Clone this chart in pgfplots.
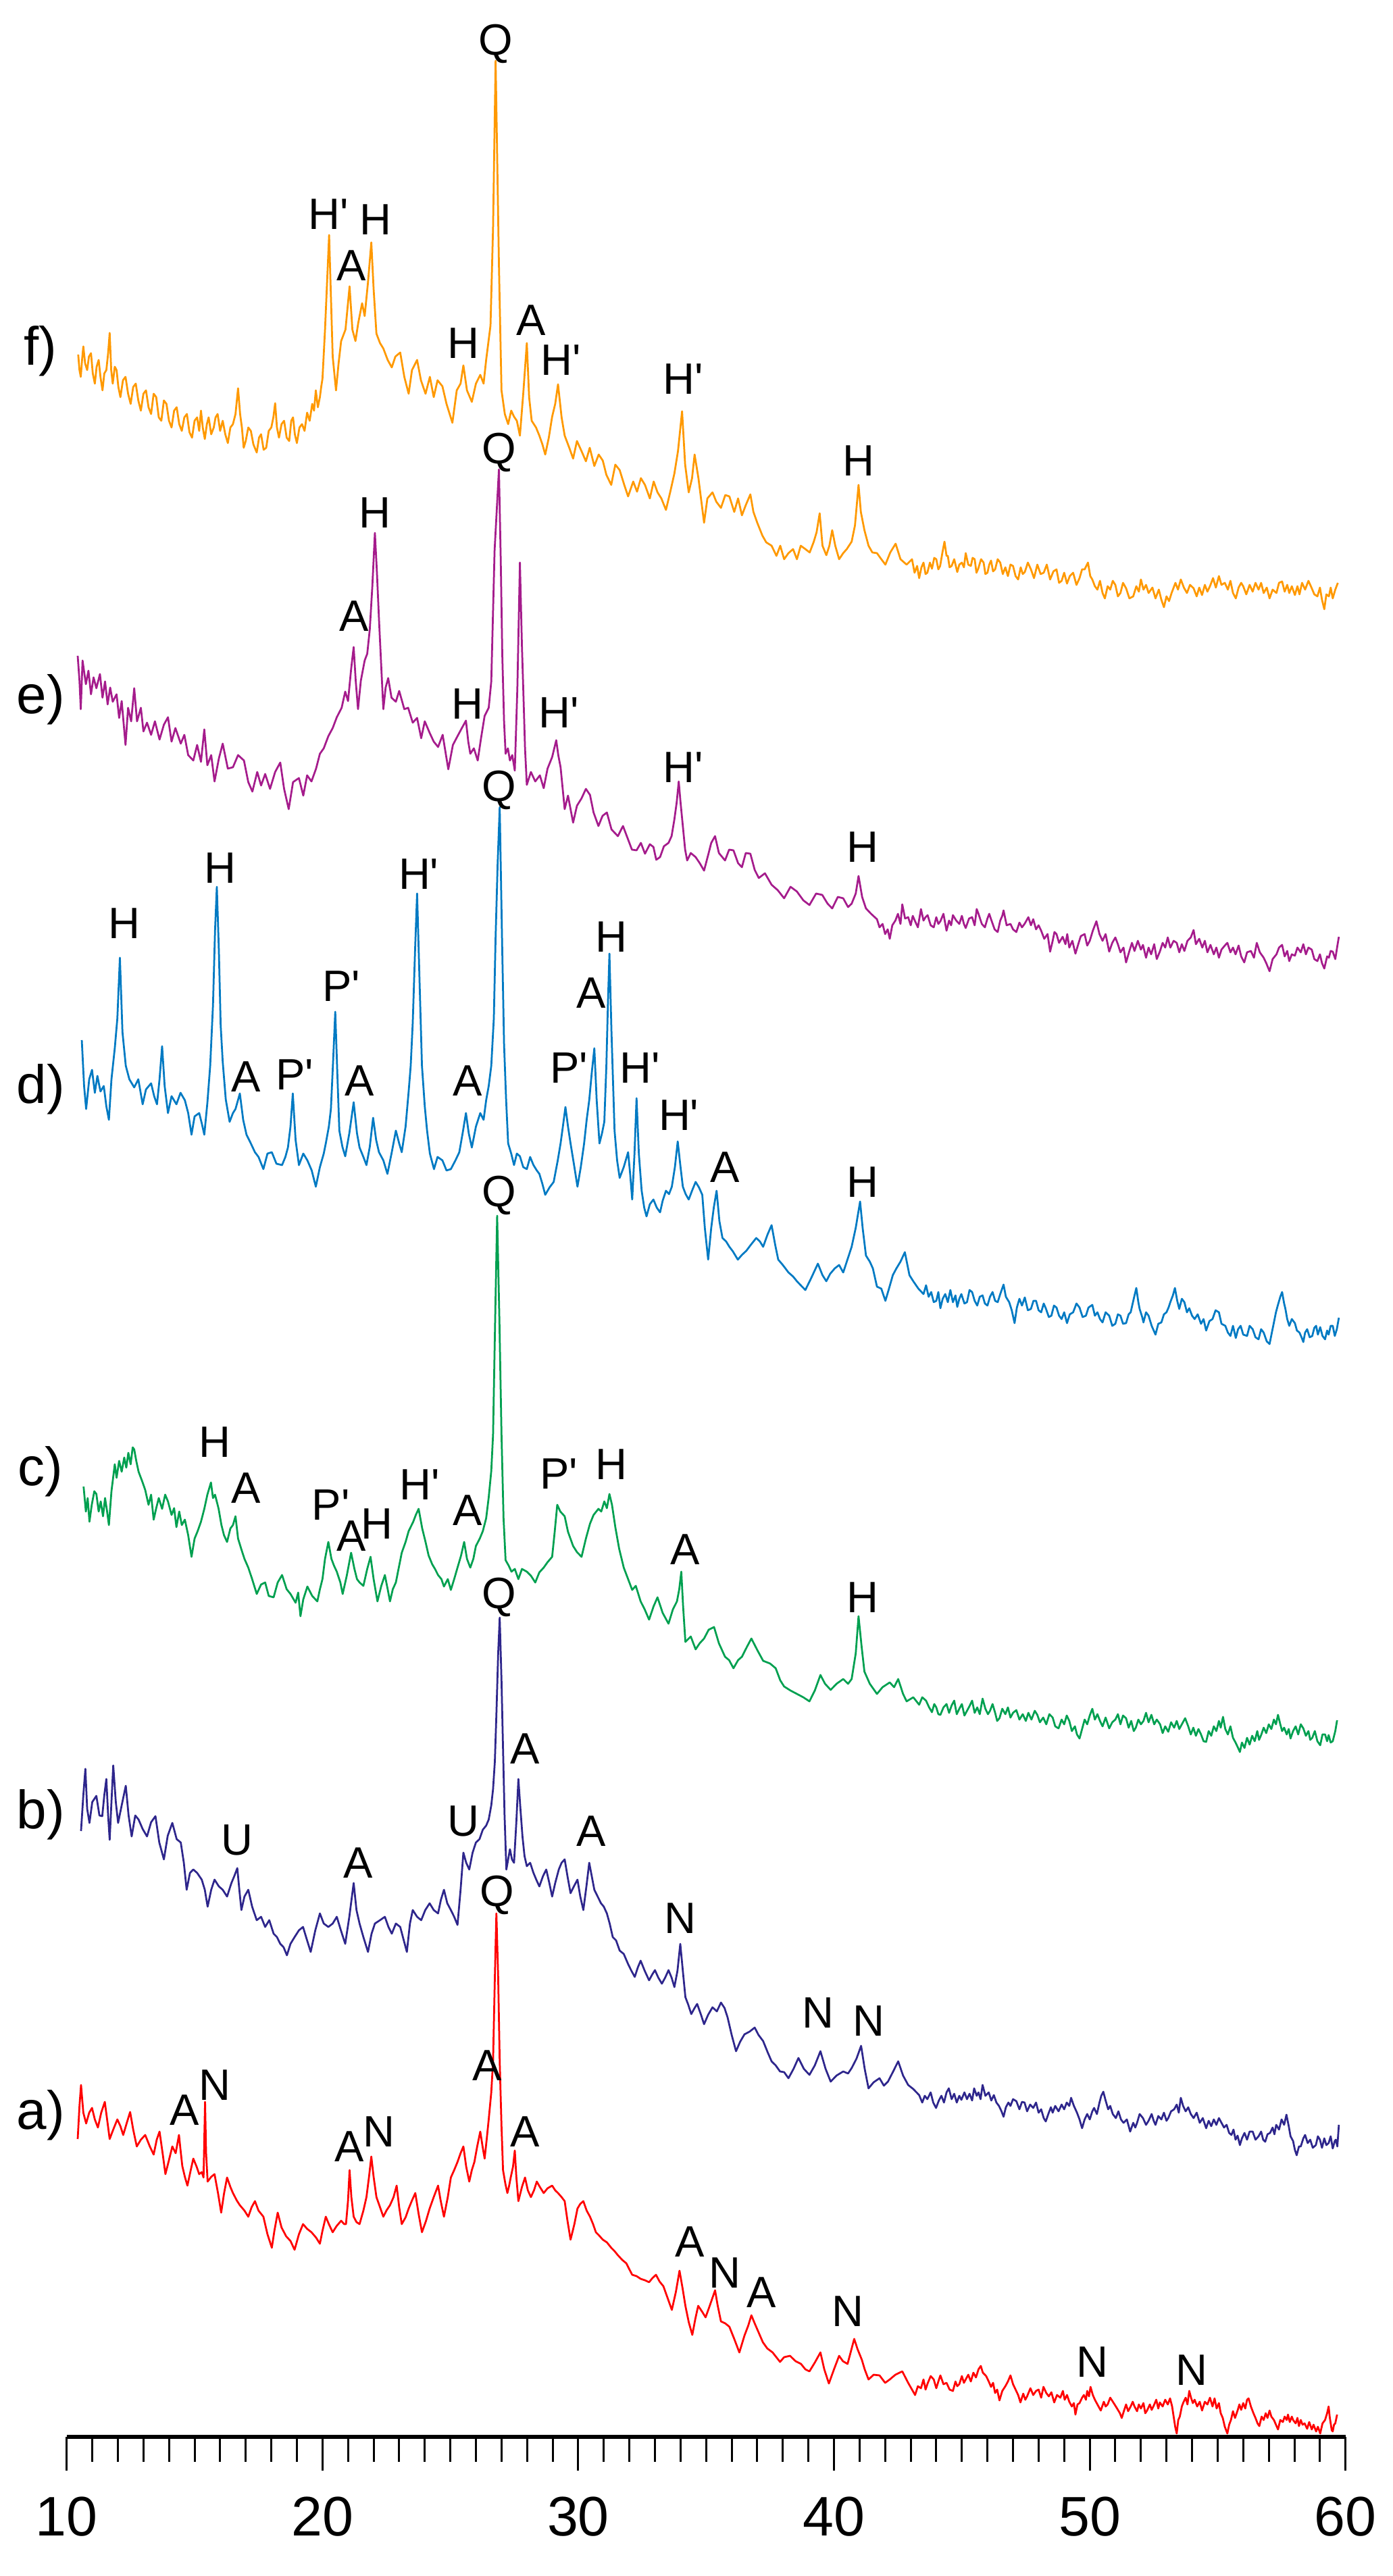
\documentclass[border=0pt]{standalone}
\usepackage{fontspec}
\setmainfont{Liberation Sans}
\usepackage{pgfplots}
\pgfplotsset{compat=1.18}

\definecolor{cf}{RGB}{255,153,0}
\definecolor{ce}{RGB}{165,28,140}
\definecolor{cd}{RGB}{0,122,195}
\definecolor{cc}{RGB}{0,160,80}
\definecolor{cb}{RGB}{46,38,140}
\definecolor{ca}{RGB}{255,0,0}

\newcommand\lbl{\fontsize{13}{14}\selectfont}
\newcommand\pnl{\fontsize{16}{17}\selectfont}
\newcommand\pk[3]{\node[font=\lbl,inner sep=0pt] at (axis cs:#1,#2) {#3};}
\newcommand\pr{\textquotesingle}

\begin{document}
\begin{tikzpicture}
\begin{axis}[
  scale only axis,
  width=378.6pt, height=721.6pt,
  xmin=10, xmax=60, ymin=0, ymax=3608,
  axis x line=bottom, axis y line=none,
  axis line style={-, line width=1.2pt},
  xtick={10,20,...,60}, minor x tick num=9,
  tick align=outside,
  major tick length=10pt, minor tick length=7.3pt,
  every tick/.append style={black, line width=0.6pt},
  xticklabel style={font=\fontsize{16.5}{18}\selectfont, yshift=-4.3pt},
  /pgf/number format/assume math mode=true,
  clip=false,
  every axis plot/.append style={line width=0.55pt, line join=round, mark=none},
]
% f)
\addplot[cf] coordinates {
(10.45,3083)(10.5,3060)(10.55,3050)(10.6,3075)(10.65,3095)(10.72,3070)(10.8,3060)(10.87,3080)(10.95,3085)(11.02,3055)(11.1,3040)(11.17,3065)
(11.25,3075)(11.32,3050)(11.4,3030)(11.47,3055)(11.55,3060)(11.62,3085)(11.68,3115)(11.74,3060)(11.8,3040)(11.88,3065)(11.95,3060)(12.02,3035)
(12.1,3020)(12.2,3045)(12.3,3050)(12.4,3025)(12.5,3010)(12.6,3035)(12.7,3040)(12.8,3015)(12.9,3000)(13.0,3025)(13.1,3030)(13.2,3005)(13.3,2995)
(13.4,3025)(13.5,3020)(13.6,2990)(13.7,2985)(13.8,3015)(13.9,3010)(14.0,2985)(14.1,2975)(14.2,3000)(14.3,3005)(14.4,2980)(14.5,2970)(14.6,2990)
(14.7,2995)(14.8,2968)(14.9,2960)(15.0,2985)(15.1,2990)(15.18,2970)(15.25,3000)(15.32,2975)(15.4,2958)(15.48,2980)(15.55,2990)(15.65,2965)
(15.75,2975)(15.82,2990)(15.9,2995)(16.0,2970)(16.1,2985)(16.2,2965)(16.3,2952)(16.4,2975)(16.5,2980)(16.6,2995)(16.7,3033)(16.78,2995)
(16.85,2975)(16.92,2945)(17.0,2955)(17.1,2975)(17.2,2970)(17.3,2950)(17.43,2938)(17.52,2960)(17.6,2965)(17.7,2942)(17.8,2945)(17.9,2970)
(18.0,2975)(18.08,2990)(18.15,3011)(18.22,2975)(18.3,2960)(18.4,2980)(18.5,2985)(18.6,2960)(18.7,2955)(18.78,2985)(18.85,2990)(18.92,2965)
(19.0,2952)(19.1,2975)(19.2,2980)(19.3,2970)(19.4,2997)(19.5,2985)(19.6,3010)(19.67,3000)(19.74,3030)(19.82,3005)(19.9,3020)(19.95,3035)
(20.0,3047)(20.1,3120)(20.26,3260)(20.4,3080)(20.53,3030)(20.63,3070)(20.73,3103)(20.9,3120)(21.06,3184)
(21.17,3120)(21.29,3103)(21.4,3130)(21.55,3159)(21.65,3140)(21.78,3190)(21.91,3249)(22.0,3180)(22.11,3114)(22.25,3100)(22.38,3092)(22.55,3075)
(22.71,3064)(22.85,3080)(23.04,3086)(23.2,3050)(23.37,3025)(23.5,3060)(23.7,3075)(23.85,3045)(24.03,3025)(24.2,3050)(24.35,3020)(24.5,3045)
(24.69,3036)(24.85,3010)(25.08,2982)(25.25,3030)(25.4,3040)(25.51,3067)(25.65,3030)(25.84,3013)(26.0,3040)(26.17,3053)(26.3,3040)(26.4,3075)
(26.57,3126)(26.67,3271)(26.77,3518)(26.9,3215)(27.0,3030)(27.13,2995)(27.26,2980)(27.38,3000)(27.49,2991)(27.6,2985)(27.72,2963)(27.85,3025)
(27.99,3100)(28.08,3020)(28.18,2985)(28.35,2975)(28.48,2963)(28.6,2950)(28.71,2935)(28.85,2960)(28.98,2991)(29.1,3010)(29.21,3039)(29.35,2990)
(29.47,2963)(29.65,2945)(29.8,2929)(29.95,2955)(30.13,2940)(30.3,2925)(30.45,2945)(30.63,2918)(30.8,2935)(30.96,2926)(31.1,2905)(31.29,2890)
(31.45,2920)(31.62,2912)(31.8,2890)(31.95,2873)(32.15,2895)(32.3,2880)(32.45,2900)(32.61,2890)(32.8,2870)(32.95,2895)(33.1,2879)(33.25,2870)
(33.43,2853)(33.6,2880)(33.76,2907)(33.9,2940)(34.06,2999)(34.18,2920)(34.32,2879)(34.45,2900)(34.55,2935)(34.7,2900)(34.92,2834)(35.05,2870)
(35.25,2879)(35.4,2865)(35.58,2856)(35.75,2875)(35.91,2873)(36.1,2850)(36.25,2870)(36.4,2845)(36.55,2860)(36.73,2876)(36.85,2850)(37.0,2834)
(37.2,2815)(37.35,2805)(37.56,2800)(37.75,2785)(37.9,2800)(38.05,2780)(38.22,2789)(38.4,2795)(38.55,2780)(38.7,2800)(38.88,2795)(39.05,2790)
(39.21,2806)(39.32,2820)(39.44,2848)(39.55,2800)(39.7,2786)(39.82,2800)(39.93,2823)(40.05,2800)(40.2,2780)(40.36,2789)(40.5,2795)(40.69,2806)
(40.82,2830)(40.96,2890)(41.05,2850)(41.19,2823)(41.35,2800)(41.5,2790)(41.68,2789)(41.85,2780)(42.01,2772)(42.2,2790)(42.41,2803)(42.6,2780)
(42.84,2772)(43.05,2780)(43.15,2760)(43.25,2770)(43.33,2752)(43.42,2768)(43.5,2775)(43.58,2758)(43.65,2760)(43.75,2775)(43.83,2766)(43.92,2782)
(44.0,2780)(44.08,2765)(44.15,2770)(44.24,2790)(44.32,2806)(44.4,2785)(44.45,2785)(44.52,2768)(44.6,2770)(44.7,2780)(44.82,2761)(44.9,2772)
(45.0,2775)(45.08,2768)(45.15,2789)(45.25,2772)(45.35,2770)(45.42,2782)(45.5,2780)(45.57,2760)(45.64,2766)(45.75,2780)(45.85,2775)(45.92,2758)
(46.0,2760)(46.07,2772)(46.14,2778)(46.22,2762)(46.3,2765)(46.4,2780)(46.5,2775)(46.6,2758)(46.7,2768)(46.8,2755)(46.9,2772)(47.0,2770)
(47.1,2755)(47.2,2750)(47.3,2768)(47.38,2758)(47.46,2761)(47.58,2775)(47.7,2765)(47.82,2752)(47.95,2772)(48.08,2758)(48.2,2760)(48.32,2772)
(48.45,2750)(48.58,2762)(48.7,2765)(48.8,2745)(48.9,2748)(49.0,2760)(49.11,2744)(49.22,2755)(49.35,2760)(49.48,2742)(49.6,2752)(49.7,2765)
(49.8,2765)(49.93,2775)(50.02,2755)(50.1,2750)(50.2,2740)(50.3,2735)(50.4,2748)(50.5,2730)(50.59,2722)(50.7,2740)(50.8,2735)(50.9,2748)
(51.0,2742)(51.1,2725)(51.2,2730)(51.3,2745)(51.42,2737)(51.55,2722)(51.7,2725)(51.82,2740)(51.92,2732)(52.0,2750)(52.1,2735)(52.2,2742)
(52.3,2730)(52.45,2738)(52.57,2722)(52.7,2735)(52.8,2720)(52.9,2709)(53.0,2725)(53.1,2718)(53.2,2730)(53.35,2745)(53.45,2735)(53.56,2750)
(53.68,2738)(53.8,2730)(53.92,2742)(54.06,2737)(54.18,2725)(54.28,2738)(54.39,2727)(54.5,2742)(54.6,2732)(54.7,2740)(54.82,2752)(54.93,2738)
(55.05,2755)(55.15,2742)(55.28,2745)(55.4,2735)(55.5,2748)(55.6,2730)(55.71,2722)(55.82,2738)(55.92,2745)(56.0,2740)(56.12,2728)(56.25,2742)
(56.37,2732)(56.48,2745)(56.6,2735)(56.7,2745)(56.8,2730)(56.92,2738)(57.03,2722)(57.15,2735)(57.3,2730)(57.4,2745)(57.52,2747)(57.62,2732)
(57.72,2742)(57.8,2730)(57.9,2740)(58.02,2727)(58.12,2740)(58.2,2728)(58.3,2745)(58.42,2735)(58.55,2748)(58.68,2737)(58.78,2728)(58.9,2725)
(59.0,2738)(59.08,2720)(59.17,2706)(59.25,2728)(59.35,2725)(59.42,2738)(59.5,2722)(59.6,2735)(59.7,2745)
};
% e)
\addplot[ce] coordinates {
(10.43,2637)(10.5,2600)(10.55,2558)(10.62,2630)(10.75,2595)(10.85,2615)(10.95,2580)(11.05,2605)(11.16,2589)(11.3,2610)(11.4,2575)(11.5,2599)
(11.6,2565)(11.7,2590)(11.8,2569)(11.95,2580)(12.05,2545)(12.15,2570)(12.3,2505)(12.4,2560)(12.52,2540)(12.64,2589)(12.75,2540)(12.9,2560)
(13.0,2525)(13.14,2538)(13.3,2520)(13.45,2540)(13.63,2513)(13.8,2535)(13.96,2546)(14.1,2510)(14.25,2530)(14.46,2507)(14.6,2520)(14.75,2490)
(14.95,2482)(15.1,2505)(15.25,2480)(15.38,2528)(15.5,2475)(15.65,2490)(15.78,2451)(15.95,2485)(16.1,2507)(16.3,2470)(16.5,2472)(16.7,2490)
(16.93,2482)(17.1,2450)(17.26,2436)(17.45,2465)(17.6,2445)(17.76,2462)(17.95,2440)(18.15,2465)(18.35,2479)(18.5,2440)(18.68,2410)(18.85,2450)
(19.08,2456)(19.25,2430)(19.4,2460)(19.57,2451)(19.75,2470)(19.9,2492)(20.05,2500)(20.23,2518)(20.4,2530)(20.56,2546)(20.75,2560)(20.89,2584)
(21.0,2570)(21.12,2617)(21.22,2650)(21.3,2600)(21.39,2558)(21.5,2600)(21.65,2630)(21.75,2640)(21.85,2676)(21.95,2740)(22.05,2819)(22.13,2760)
(22.21,2691)(22.3,2620)(22.38,2558)(22.47,2590)(22.57,2604)(22.7,2575)(22.87,2569)(23.0,2585)(23.2,2558)(23.35,2560)(23.53,2538)(23.7,2545)
(23.86,2515)(24.0,2540)(24.19,2523)(24.35,2510)(24.52,2502)(24.7,2520)(24.92,2469)(25.1,2505)(25.28,2518)(25.45,2530)(25.61,2541)(25.7,2510)
(25.78,2492)(25.92,2500)(26.07,2482)(26.2,2515)(26.34,2548)(26.5,2560)(26.6,2599)(26.73,2793)(26.9,2913)(26.97,2780)(27.03,2640)(27.1,2540)
(27.16,2492)(27.25,2500)(27.33,2482)(27.42,2490)(27.52,2467)(27.62,2589)(27.72,2775)(27.8,2650)(27.85,2589)(27.92,2500)(27.99,2446)(28.15,2465)
(28.32,2451)(28.5,2460)(28.65,2441)(28.8,2470)(28.98,2487)(29.14,2512)(29.22,2490)(29.31,2472)(29.47,2410)(29.6,2430)(29.8,2390)(29.95,2415)
(30.13,2426)(30.3,2440)(30.46,2431)(30.6,2405)(30.79,2385)(30.95,2400)(31.12,2405)(31.3,2380)(31.55,2370)(31.75,2385)(31.95,2365)(32.1,2350)
(32.28,2349)(32.45,2360)(32.61,2344)(32.8,2358)(32.94,2354)(33.05,2335)(33.2,2339)(33.35,2355)(33.53,2360)(33.65,2370)(33.76,2395)(33.85,2420)
(33.93,2451)(34.0,2420)(34.09,2385)(34.18,2350)(34.26,2334)(34.4,2345)(34.59,2339)(34.75,2330)(34.92,2319)(35.1,2345)(35.2,2360)(35.35,2370)
(35.5,2345)(35.74,2334)(35.9,2350)(36.07,2349)(36.25,2330)(36.4,2324)(36.55,2345)(36.73,2344)(36.9,2320)(37.06,2308)(37.3,2315)(37.56,2298)
(37.8,2290)(38.05,2278)(38.3,2295)(38.55,2288)(38.8,2275)(39.04,2268)(39.3,2285)(39.54,2283)(39.75,2270)(39.93,2263)(40.15,2280)(40.36,2278)
(40.55,2265)(40.69,2270)(40.85,2285)(40.96,2311)(41.1,2280)(41.25,2263)(41.45,2255)
(41.68,2247)(41.78,2235)(41.9,2240)(42.0,2225)(42.1,2232)(42.18,2218)(42.28,2238)(42.4,2245)(42.5,2255)(42.6,2240)(42.67,2269)(42.78,2248)
(42.9,2250)(43.0,2238)(43.08,2252)(43.17,2244)(43.28,2235)(43.4,2262)(43.5,2245)(43.58,2250)(43.66,2253)(43.78,2238)(43.9,2235)(44.0,2250)
(44.08,2240)(44.16,2244)(44.28,2255)(44.4,2230)(44.5,2245)(44.58,2238)(44.65,2253)(44.78,2245)(44.9,2240)(45.0,2252)(45.08,2240)(45.15,2234)
(45.28,2248)(45.4,2250)(45.5,2238)(45.58,2262)(45.64,2256)(45.78,2240)(45.9,2235)(46.0,2248)(46.07,2255)(46.14,2247)(46.28,2232)(46.4,2228)
(46.5,2245)(46.58,2252)(46.63,2260)(46.75,2238)(46.9,2240)(47.0,2232)(47.13,2228)(47.25,2242)(47.35,2235)(47.45,2240)(47.6,2250)(47.7,2238)
(47.79,2247)(47.9,2232)(48.0,2238)(48.1,2230)(48.22,2218)(48.35,2225)(48.45,2199)(48.55,2215)(48.62,2228)(48.7,2225)(48.8,2212)(48.94,2221)
(49.05,2210)(49.12,2225)(49.2,2205)(49.32,2215)(49.44,2196)(49.55,2210)(49.65,2222)(49.8,2225)(49.9,2208)(50.0,2215)(50.12,2230)(50.26,2244)
(50.38,2225)(50.5,2215)(50.62,2225)(50.76,2199)(50.88,2212)(51.0,2220)(51.1,2210)(51.2,2198)(51.32,2205)(51.42,2183)(51.55,2200)(51.65,2212)
(51.75,2200)(51.88,2215)(52.0,2202)(52.08,2209)(52.2,2190)(52.3,2205)(52.4,2195)(52.52,2210)(52.62,2188)(52.74,2199)(52.85,2212)(52.95,2205)
(53.05,2220)(53.15,2205)(53.28,2215)(53.4,2212)(53.5,2198)(53.6,2210)(53.7,2200)(53.82,2215)(53.95,2220)(54.06,2231)(54.15,2210)(54.28,2218)
(54.4,2205)(54.5,2215)(54.6,2198)(54.72,2209)(54.85,2195)(54.95,2205)(55.05,2190)(55.15,2202)(55.28,2208)(55.38,2212)(55.5,2198)(55.6,2205)
(55.7,2195)(55.82,2208)(55.92,2192)(56.04,2183)(56.15,2198)(56.3,2200)(56.42,2190)(56.53,2212)(56.65,2198)(56.8,2190)(56.9,2182)(57.03,2170)
(57.15,2188)(57.3,2195)(57.4,2205)(57.52,2209)(57.62,2192)(57.72,2200)(57.8,2185)(57.9,2195)(58.02,2193)(58.12,2205)(58.25,2198)(58.35,2210)
(58.45,2195)(58.55,2205)(58.68,2202)(58.78,2188)(58.9,2185)(59.0,2195)(59.08,2182)(59.17,2174)(59.28,2192)(59.35,2190)(59.42,2200)(59.5,2199)
(59.6,2188)(59.67,2205)(59.74,2221)
};
% d)
\addplot[cd] coordinates {
(10.59,2068)(10.68,2000)(10.76,1966)(10.88,2010)(10.99,2024)(11.1,1990)(11.2,2015)(11.32,1992)(11.45,2000)(11.55,1970)(11.65,1950)(11.75,2010)
(11.88,2056)(11.98,2100)(12.08,2190)(12.18,2080)(12.31,2030)(12.45,2010)(12.64,1998)(12.8,2010)(12.97,1973)(13.1,1995)(13.3,2004)(13.42,1985)
(13.53,1973)(13.63,2010)(13.73,2059)(13.83,2000)(13.96,1960)(14.1,1985)(14.29,1973)(14.45,1990)(14.62,1979)(14.75,1960)(14.88,1928)(15.0,1955)
(15.18,1960)(15.28,1945)(15.38,1928)(15.5,1975)(15.61,2030)(15.72,2120)(15.8,2230)(15.87,2295)(15.95,2200)(16.02,2090)(16.1,2036)(16.22,1980)
(16.37,1947)(16.5,1960)(16.6,1966)(16.77,1989)(16.9,1950)(17.03,1928)(17.2,1915)(17.36,1902)(17.5,1895)(17.69,1877)(17.85,1900)(18.02,1902)
(18.2,1885)(18.42,1883)(18.55,1895)(18.65,1909)(18.75,1940)(18.84,1989)(18.95,1920)(19.08,1883)(19.25,1900)(19.41,1890)(19.58,1875)(19.74,1851)
(19.9,1880)(20.05,1900)(20.13,1915)(20.25,1940)(20.33,1966)(20.42,2040)(20.5,2110)(20.58,2020)(20.66,1934)(20.78,1910)(20.89,1896)(21.05,1930)
(21.22,1976)(21.35,1930)(21.45,1909)(21.6,1895)(21.72,1883)(21.85,1910)(21.98,1953)(22.1,1920)(22.21,1902)(22.38,1890)(22.54,1870)(22.7,1900)
(22.87,1934)(23.0,1915)(23.1,1902)(23.25,1940)(23.37,1992)(23.45,2030)(23.53,2094)(23.62,2200)(23.7,2285)(23.8,2150)(23.89,2030)(24.0,1970)
(24.09,1934)(24.2,1900)(24.36,1877)(24.5,1895)(24.69,1890)(24.85,1875)(25.02,1877)(25.2,1890)(25.35,1902)(25.48,1930)(25.61,1960)(25.72,1930)
(25.84,1909)(26.0,1940)(26.17,1960)(26.3,1950)(26.4,1979)(26.5,2000)(26.6,2030)(26.7,2100)(26.77,2221)(26.85,2330)(26.93,2413)(27.02,2220)
(27.1,2062)(27.18,1980)(27.26,1915)(27.38,1900)(27.49,1883)(27.6,1900)(27.72,1896)(27.85,1880)(27.99,1877)(28.12,1895)(28.25,1883)(28.38,1875)
(28.48,1870)(28.6,1855)(28.71,1839)(28.88,1850)(29.04,1858)(29.2,1890)(29.31,1915)(29.4,1940)(29.5,1969)(29.6,1940)(29.7,1915)(29.85,1880)
(29.97,1851)(30.1,1880)(30.23,1915)(30.33,1950)(30.43,1979)(30.53,2020)(30.63,2056)(30.72,1980)(30.83,1915)(30.93,1930)(31.02,1947)(31.1,2030)
(31.16,2120)(31.22,2196)(31.3,2080)(31.42,1934)(31.52,1890)(31.62,1864)(31.78,1880)(31.95,1902)(32.03,1870)(32.11,1832)(32.2,1900)(32.28,1982)
(32.37,1900)(32.48,1845)(32.58,1820)(32.67,1807)(32.8,1825)(32.94,1832)(33.07,1820)(33.2,1813)(33.3,1830)(33.43,1845)(33.55,1840)(33.66,1851)
(33.78,1880)(33.89,1918)(34.0,1880)(34.09,1851)(34.2,1840)(34.32,1832)(34.45,1845)(34.59,1858)(34.72,1850)(34.85,1839)(34.95,1790)(35.08,1743)
(35.2,1790)(35.3,1820)(35.41,1845)(35.52,1800)(35.64,1775)(35.78,1770)(35.91,1762)(36.05,1755)(36.24,1743)(36.4,1750)(36.57,1756)(36.75,1765)
(36.96,1775)(37.1,1770)(37.23,1762)(37.4,1780)(37.56,1794)(37.7,1765)(37.82,1743)(38.0,1735)(38.22,1724)(38.4,1718)(38.55,1711)(38.7,1705)
(38.88,1698)(39.1,1715)(39.37,1737)(39.55,1720)(39.7,1711)(39.85,1722)(40.03,1730)(40.2,1735)(40.36,1724)(40.5,1740)(40.69,1762)(40.85,1790)
(41.02,1829)(41.12,1790)(41.25,1749)(41.4,1740)(41.52,1730)(41.68,1703)(41.85,1700)(42.01,1682)(42.15,1700)(42.3,1720)(42.44,1730)(42.6,1740)
(42.77,1754)(42.95,1720)(43.1,1711)(43.3,1700)
(43.5,1692)(43.6,1705)(43.7,1688)(43.8,1695)(43.9,1680)(44.0,1682)(44.08,1695)(44.16,1671)(44.25,1685)(44.35,1692)(44.45,1680)(44.55,1698)
(44.65,1680)(44.75,1690)(44.82,1673)(44.9,1685)(44.98,1692)(45.1,1678)(45.2,1680)(45.3,1698)(45.4,1695)(45.5,1682)(45.6,1675)(45.7,1688)
(45.81,1690)(45.9,1678)(46.0,1675)(46.1,1688)(46.2,1695)(46.3,1682)(46.4,1680)(46.5,1692)(46.63,1706)(46.72,1688)(46.85,1680)(46.95,1668)
(47.06,1649)(47.15,1672)(47.25,1685)(47.35,1675)(47.46,1687)(47.58,1668)(47.7,1670)(47.8,1682)(47.9,1682)(48.0,1668)(48.1,1665)(48.2,1678)
(48.28,1671)(48.4,1658)(48.5,1660)(48.6,1675)(48.7,1672)(48.8,1660)(48.9,1655)(49.0,1665)(49.11,1649)(49.22,1662)(49.35,1665)(49.48,1678)
(49.6,1672)(49.72,1658)(49.85,1660)(49.95,1672)(50.1,1676)(50.2,1660)(50.3,1665)(50.4,1655)(50.5,1650)(50.62,1665)(50.76,1660)(50.88,1645)
(51.0,1648)(51.1,1662)(51.2,1660)(51.3,1648)(51.42,1649)(51.52,1662)(51.6,1665)(51.72,1685)(51.82,1701)(51.9,1680)(51.95,1670)(52.05,1658)
(52.1,1650)(52.2,1665)(52.3,1660)(52.42,1645)(52.57,1632)(52.68,1648)(52.8,1650)(52.9,1662)(53.0,1665)(53.08,1672)(53.15,1680)(53.25,1690)
(53.33,1701)(53.42,1682)(53.5,1670)(53.6,1685)(53.7,1680)(53.8,1665)(53.89,1671)(54.0,1660)(54.1,1655)(54.22,1662)(54.35,1648)(54.45,1655)
(54.55,1638)(54.68,1652)(54.8,1655)(54.92,1668)(55.05,1665)(55.15,1648)(55.3,1645)(55.4,1635)(55.5,1630)(55.6,1645)(55.71,1627)(55.8,1640)
(55.9,1645)(56.0,1632)(56.15,1630)(56.25,1645)(56.37,1640)(56.48,1628)(56.6,1625)(56.7,1640)(56.8,1635)(56.92,1622)(57.03,1618)(57.12,1635)
(57.2,1650)(57.28,1665)(57.35,1675)(57.45,1688)(57.52,1695)(57.6,1678)(57.65,1670)(57.72,1655)(57.8,1645)(57.9,1655)(58.02,1649)(58.1,1638)
(58.2,1635)(58.28,1628)(58.35,1621)(58.42,1635)(58.5,1640)(58.6,1628)(58.7,1630)(58.78,1642)(58.85,1645)(58.92,1632)(59.01,1643)(59.1,1630)
(59.2,1625)(59.28,1638)(59.34,1632)(59.42,1645)(59.5,1645)(59.58,1630)(59.66,1640)(59.74,1657)
};
% c)
\addplot[cc] coordinates {
(10.66,1407)(10.75,1370)(10.82,1390)(10.89,1355)(10.98,1380)(11.08,1400)(11.16,1396)(11.25,1370)(11.33,1385)(11.42,1363)(11.5,1390)(11.58,1370)
(11.65,1350)(11.75,1400)(11.88,1440)(11.95,1420)(12.05,1445)(12.15,1429)(12.25,1450)(12.33,1435)(12.41,1457)(12.5,1440)(12.58,1465)(12.64,1462)
(12.72,1445)(12.81,1429)(12.95,1415)(13.07,1402)(13.2,1380)(13.3,1395)(13.4,1358)(13.5,1375)(13.6,1390)(13.73,1374)(13.85,1395)(13.96,1385)
(14.1,1365)(14.2,1375)(14.29,1347)(14.4,1370)(14.5,1350)(14.62,1358)(14.75,1335)(14.88,1303)(15.0,1330)(15.12,1341)(15.25,1355)(15.38,1374)
(15.5,1395)(15.64,1413)(15.72,1390)(15.8,1395)(15.94,1374)(16.05,1350)(16.15,1335)(16.27,1325)(16.4,1345)(16.5,1350)(16.6,1363)(16.7,1330)
(16.83,1314)(16.95,1300)(17.1,1287)(17.25,1270)(17.43,1248)(17.6,1262)(17.76,1265)(17.9,1245)(18.09,1243)(18.25,1265)(18.42,1276)(18.6,1255)
(18.75,1248)(18.95,1235)(19.05,1250)(19.14,1215)(19.25,1240)(19.41,1259)(19.6,1245)(19.8,1237)(19.9,1255)(20.0,1270)(20.1,1300)(20.23,1325)
(20.35,1300)(20.45,1290)(20.56,1281)(20.7,1265)(20.79,1248)(20.95,1275)(21.12,1309)(21.25,1285)(21.35,1270)(21.45,1265)(21.6,1260)(21.75,1285)
(21.88,1303)(22.0,1270)(22.15,1237)(22.3,1260)(22.44,1276)(22.55,1255)(22.64,1237)(22.75,1255)(22.87,1265)(23.0,1290)(23.1,1309)(23.25,1325)
(23.37,1341)(23.55,1355)(23.65,1365)(23.76,1374)(23.9,1345)(24.03,1325)(24.15,1305)(24.29,1292)(24.4,1285)(24.52,1276)(24.65,1270)(24.75,1259)
(24.9,1270)(25.02,1254)(25.15,1270)(25.28,1287)(25.42,1305)(25.54,1325)(25.65,1300)(25.78,1287)(25.9,1300)(26.0,1319)(26.15,1330)(26.27,1341)
(26.4,1360)(26.5,1391)(26.6,1430)(26.67,1484)(26.75,1650)(26.83,1808)(26.92,1650)(27.0,1484)(27.08,1360)(27.16,1298)(27.28,1290)(27.39,1281)
(27.52,1285)(27.66,1270)(27.8,1285)(27.99,1281)(28.15,1275)(28.32,1265)(28.48,1280)(28.65,1287)(28.8,1295)(28.98,1303)(29.08,1340)(29.18,1380)
(29.3,1370)(29.47,1363)(29.6,1340)(29.8,1319)(29.95,1310)(30.13,1303)(30.3,1330)(30.46,1352)(30.6,1365)(30.79,1374)(30.9,1370)(31.02,1385)
(31.12,1375)(31.22,1396)(31.32,1380)(31.45,1347)(31.6,1315)(31.78,1287)(31.95,1270)(32.11,1254)(32.25,1260)(32.44,1237)(32.6,1225)(32.77,1210)
(32.95,1230)(33.1,1243)(33.3,1220)(33.53,1204)(33.7,1225)(33.86,1237)(33.95,1255)(34.03,1281)(34.1,1230)(34.19,1177)(34.4,1185)(34.59,1166)
(34.75,1175)(34.92,1182)(35.1,1195)(35.31,1199)(35.5,1175)(35.74,1155)(35.9,1150)(36.07,1138)(36.25,1150)(36.4,1155)(36.6,1170)(36.77,1182)
(37.0,1165)(37.23,1149)(37.5,1145)(37.72,1138)(37.9,1120)(38.05,1111)(38.3,1105)(38.55,1100)(38.8,1095)(39.04,1089)(39.25,1105)(39.47,1128)
(39.65,1115)(39.87,1106)(40.1,1115)(40.36,1122)(40.55,1115)(40.69,1122)(40.85,1160)(40.96,1215)(41.08,1170)(41.19,1133)(41.4,1115)(41.68,1100)
(41.9,1110)(42.18,1117)(42.35,1110)(42.51,1122)(42.7,1100)(42.84,1089)(43.1,1095)
(43.33,1084)(43.45,1095)(43.6,1090)(43.72,1080)(43.83,1073)(43.92,1085)(44.0,1080)(44.08,1070)(44.16,1069)(44.28,1080)(44.4,1085)(44.5,1072)
(44.6,1083)(44.7,1090)(44.8,1070)(44.9,1078)(45.0,1085)(45.1,1068)(45.2,1075)(45.3,1082)(45.4,1090)(45.5,1072)(45.6,1080)(45.7,1070)
(45.81,1093)(45.92,1078)(46.02,1070)(46.1,1075)(46.2,1085)(46.3,1072)(46.38,1060)(46.47,1064)(46.58,1078)(46.7,1070)(46.8,1080)(46.9,1065)
(47.0,1072)(47.13,1076)(47.25,1062)(47.38,1070)(47.5,1060)(47.6,1072)(47.72,1062)(47.85,1075)(47.95,1069)(48.05,1058)(48.18,1065)(48.3,1055)
(48.42,1070)(48.55,1065)(48.65,1052)(48.78,1049)(48.9,1062)(49.0,1055)(49.1,1068)(49.2,1060)(49.3,1045)(49.42,1052)(49.5,1040)(49.6,1034)
(49.7,1048)(49.8,1062)(49.9,1055)(50.0,1068)(50.1,1078)(50.2,1062)(50.3,1070)(50.4,1060)(50.5,1052)(50.62,1065)(50.76,1049)(50.88,1058)
(51.0,1062)(51.1,1070)(51.2,1055)(51.3,1068)(51.42,1064)(51.52,1050)(51.62,1060)(51.72,1045)(51.8,1050)(51.9,1062)(52.0,1055)(52.1,1060)
(52.2,1072)(52.3,1058)(52.41,1069)(52.52,1055)(52.62,1062)(52.75,1055)(52.85,1042)(52.95,1052)(53.07,1044)(53.18,1058)(53.3,1050)(53.4,1060)
(53.5,1048)(53.6,1055)(53.73,1064)(53.85,1052)(53.95,1040)(54.05,1050)(54.15,1038)(54.25,1048)(54.35,1040)(54.45,1030)(54.55,1029)(54.65,1045)
(54.75,1038)(54.85,1052)(54.95,1045)(55.05,1060)(55.12,1050)(55.21,1066)(55.3,1048)(55.4,1040)(55.5,1052)(55.6,1035)(55.7,1028)(55.8,1020)
(55.87,1014)(55.95,1028)(56.05,1020)(56.15,1035)(56.25,1025)(56.35,1038)(56.45,1030)(56.55,1045)(56.62,1032)(56.7,1039)(56.8,1050)(56.9,1042)
(57.0,1055)(57.1,1048)(57.2,1062)(57.28,1055)(57.36,1069)(57.45,1055)(57.52,1045)(57.6,1050)(57.7,1040)(57.78,1048)(57.85,1034)(57.95,1045)
(58.05,1052)(58.15,1040)(58.25,1055)(58.35,1049)(58.45,1038)(58.55,1045)(58.62,1032)(58.7,1035)(58.8,1045)(58.9,1030)(59.01,1024)(59.1,1040)
(59.2,1040)(59.28,1030)(59.34,1039)(59.42,1028)(59.5,1030)(59.6,1045)(59.67,1061)
};
% b)
\addplot[cb] coordinates {
(10.56,897)(10.65,950)(10.73,989)(10.8,930)(10.89,909)(11.0,940)(11.16,949)(11.28,920)(11.39,919)(11.47,950)(11.55,974)(11.62,920)(11.68,884)
(11.75,940)(11.82,994)(11.92,940)(12.01,909)(12.15,935)(12.31,964)(12.42,920)(12.54,889)(12.68,920)(12.81,914)(12.97,900)(13.14,889)(13.3,910)
(13.47,919)(13.62,880)(13.8,855)(13.95,890)(14.13,909)(14.3,885)(14.46,880)(14.58,850)(14.69,810)(14.82,835)(14.95,840)(15.1,835)(15.28,825)
(15.4,810)(15.51,785)(15.65,810)(15.78,825)(15.95,815)(16.1,810)(16.27,800)(16.44,820)(16.55,830)(16.67,842)(16.75,810)(16.83,780)(16.95,800)
(17.1,810)(17.25,785)(17.43,765)(17.6,770)(17.76,755)(17.92,765)(18.09,745)(18.22,740)(18.35,730)(18.48,725)(18.61,713)(18.75,730)(18.91,740)
(19.08,750)(19.24,755)(19.4,735)(19.54,718)(19.72,750)(19.9,775)(20.05,760)(20.23,755)(20.4,760)(20.56,770)(20.72,750)(20.89,730)(21.05,770)
(21.22,820)(21.33,780)(21.45,760)(21.6,740)(21.78,718)(21.92,745)(22.05,760)(22.25,765)(22.44,770)(22.58,755)(22.71,745)(22.87,760)(23.04,755)
(23.18,735)(23.3,718)(23.42,760)(23.53,780)(23.7,770)(23.86,765)(24.02,780)(24.19,790)(24.35,780)(24.52,775)(24.63,795)(24.75,810)(24.88,790)
(25.02,780)(25.15,770)(25.28,758)(25.4,810)(25.51,865)(25.62,850)(25.74,840)(25.87,865)(26.0,880)(26.14,885)(26.27,899)(26.4,905)(26.5,914)
(26.6,935)(26.67,959)(26.74,1000)(26.8,1069)(26.87,1160)(26.93,1213)(27.0,1120)(27.06,1019)(27.12,920)(27.19,840)(27.26,855)(27.33,870)
(27.41,855)(27.49,850)(27.58,910)(27.66,974)(27.74,930)(27.82,889)(27.9,860)(27.99,845)(28.12,850)(28.25,835)(28.36,825)(28.48,815)(28.62,830)
(28.75,840)(28.87,820)(28.98,800)(29.1,820)(29.24,840)(29.35,850)(29.47,855)(29.58,830)(29.7,805)(29.83,815)(29.97,825)(30.08,800)(30.2,780)
(30.32,815)(30.43,850)(30.53,830)(30.63,810)(30.76,800)(30.89,790)(31.0,785)(31.12,775)(31.23,760)(31.35,740)(31.48,735)(31.62,720)(31.78,715)
(31.95,700)(32.08,690)(32.21,681)(32.33,695)(32.44,705)(32.6,690)(32.77,676)(32.9,685)(33.0,691)(33.13,680)(33.27,671)(33.4,680)(33.53,691)
(33.65,680)(33.76,666)(33.88,690)(33.99,730)(34.09,690)(34.19,651)(34.3,640)(34.42,626)(34.55,635)(34.65,641)(34.8,625)(34.92,611)(35.08,625)
(35.25,636)(35.42,630)(35.58,643)(35.72,635)(35.84,621)(36.0,595)(36.17,571)(36.33,585)(36.5,596)(36.7,600)(36.9,606)(37.05,595)(37.23,586)
(37.4,570)(37.56,556)(37.72,550)(37.89,541)(38.05,540)(38.22,531)(38.42,545)(38.61,561)(38.82,545)(39.04,536)(39.25,550)(39.47,571)(39.67,545)
(39.87,526)(40.1,535)(40.36,541)(40.55,538)(40.69,546)(40.88,560)(41.06,579)(41.2,545)(41.35,516)(41.55,525)(41.78,531)(41.95,520)(42.11,526)
(42.3,540)(42.51,556)(42.7,535)(42.9,521)(43.1,515)
(43.33,506)(43.45,495)(43.55,505)(43.65,500)(43.78,510)(43.88,495)(43.99,487)(44.1,498)(44.2,505)(44.3,495)(44.4,510)(44.49,516)(44.6,500)
(44.7,508)(44.8,495)(44.9,505)(44.98,499)(45.1,510)(45.2,500)(45.3,508)(45.4,498)(45.48,516)(45.58,505)(45.65,510)(45.73,500)(45.81,521)
(45.92,505)(46.05,510)(46.15,498)(46.25,506)(46.35,495)(46.45,490)(46.55,482)(46.63,474)(46.72,488)(46.82,495)(46.9,490)(47.0,500)(47.13,497)
(47.25,485)(47.35,496)(47.45,495)(47.55,482)(47.67,492)(47.79,487)(47.9,495)(48.0,480)(48.1,485)(48.2,472)(48.28,467)(48.38,478)(48.48,488)
(48.55,480)(48.65,490)(48.78,482)(48.9,492)(49.0,485)(49.1,495)(49.2,490)(49.27,502)(49.38,490)(49.5,480)(49.6,470)(49.7,457)(49.8,470)
(49.9,478)(50.0,470)(50.1,482)(50.17,487)(50.28,478)(50.38,495)(50.45,505)(50.53,511)(50.62,498)(50.72,485)(50.8,490)(50.9,478)(51.02,472)
(51.12,482)(51.22,470)(51.32,465)(51.45,470)(51.58,452)(51.7,465)(51.78,458)(51.85,465)(51.95,478)(52.08,472)(52.2,462)(52.3,468)(52.42,478)
(52.5,468)(52.57,462)(52.68,475)(52.8,470)(52.9,480)(53.0,468)(53.07,472)(53.18,482)(53.3,485)(53.4,492)(53.48,480)(53.56,502)(53.65,490)
(53.75,482)(53.85,488)(53.95,478)(54.06,472)(54.18,480)(54.3,465)(54.42,472)(54.55,457)(54.65,468)(54.75,460)(54.85,470)(54.95,462)(55.05,472)
(55.15,465)(55.25,458)(55.35,462)(55.45,450)(55.54,447)(55.62,455)(55.7,440)(55.78,446)(55.87,432)(55.95,442)(56.05,450)(56.15,440)(56.25,452)
(56.37,452)(56.48,440)(56.6,445)(56.7,452)(56.78,440)(56.86,437)(56.95,448)(57.05,450)(57.15,458)(57.22,448)(57.29,462)(57.4,455)(57.5,470)
(57.6,462)(57.69,477)(57.78,460)(57.85,445)(57.95,438)(58.02,425)(58.09,417)(58.18,430)(58.25,430)(58.35,442)(58.42,447)(58.52,435)(58.62,440)
(58.72,428)(58.84,432)(58.92,445)(59.0,440)(59.08,428)(59.17,442)(59.25,432)(59.34,435)(59.42,445)(59.5,427)(59.58,438)(59.62,440)(59.68,430)
(59.74,462)
};
% a)
\addplot[ca] coordinates {
(10.43,441)(10.5,490)(10.56,521)(10.65,480)(10.76,464)(10.88,480)(10.99,487)(11.1,470)(11.22,458)(11.35,480)(11.49,496)(11.58,470)(11.68,441)
(11.82,455)(11.98,470)(12.1,460)(12.21,447)(12.35,465)(12.48,481)(12.6,455)(12.74,430)(12.9,440)(13.07,447)(13.25,430)(13.4,418)(13.52,440)
(13.63,452)(13.75,420)(13.86,389)(14.0,410)(14.13,430)(14.26,420)(14.39,447)(14.45,425)(14.52,401)(14.62,385)(14.72,372)(14.85,395)(14.95,412)
(15.08,400)(15.18,389)(15.28,392)(15.35,384)(15.38,440)(15.41,496)(15.45,420)(15.51,378)(15.65,385)(15.78,389)(15.92,360)(16.04,332)(16.15,360)
(16.27,384)(16.4,370)(16.5,361)(16.65,350)(16.77,343)(16.95,335)(17.1,326)(17.23,340)(17.36,349)(17.5,335)(17.69,326)(17.85,300)(18.02,280)
(18.12,305)(18.25,332)(18.4,310)(18.58,297)(18.75,290)(18.91,277)(19.08,300)(19.24,315)(19.4,308)(19.57,303)(19.75,295)(19.9,286)(20.0,305)
(20.13,326)(20.25,315)(20.4,303)(20.55,312)(20.73,320)(20.85,315)(20.92,315)(21.0,350)(21.06,395)(21.13,355)(21.22,326)(21.33,318)(21.45,315)
(21.6,335)(21.72,355)(21.82,385)(21.91,415)(22.0,385)(22.11,355)(22.25,340)(22.38,326)(22.5,335)(22.64,343)(22.78,355)(22.9,372)(23.0,340)
(23.1,315)(23.25,325)(23.37,338)(23.5,350)(23.63,361)(23.76,330)(23.89,303)(24.05,320)(24.19,338)(24.35,355)(24.52,372)(24.62,350)(24.75,326)
(24.9,355)(25.02,384)(25.15,395)(25.28,407)(25.4,420)(25.51,430)(25.62,400)(25.74,378)(25.84,395)(25.94,407)(26.05,430)(26.17,452)(26.26,430)
(26.34,412)(26.42,440)(26.5,470)(26.6,510)(26.67,556)(26.74,680)(26.8,775)(26.87,680)(26.93,556)(27.0,460)(27.06,395)(27.15,375)(27.23,361)
(27.3,372)(27.36,384)(27.45,400)(27.52,424)(27.58,385)(27.66,349)(27.8,370)(27.92,384)(28.03,365)(28.15,355)(28.27,365)(28.38,378)(28.5,370)
(28.65,361)(28.8,368)(28.98,372)(29.1,365)(29.21,361)(29.35,355)(29.47,349)(29.58,320)(29.7,292)(29.85,315)(29.97,338)(30.08,345)(30.2,349)
(30.33,335)(30.46,326)(30.58,315)(30.69,303)(30.82,298)(30.96,292)(31.12,288)(31.29,280)(31.42,275)(31.55,269)(31.72,262)(31.88,257)(32.0,248)
(32.11,240)(32.28,238)(32.44,234)(32.6,232)(32.77,229)(32.9,235)(33.04,240)(33.18,230)(33.33,223)(33.5,205)(33.66,188)(33.82,215)(33.96,246)
(34.08,220)(34.19,194)(34.32,170)(34.46,151)(34.58,175)(34.69,194)(34.85,185)(34.98,177)(35.15,195)(35.35,217)(35.45,195)(35.58,171)(35.75,168)
(35.91,163)(36.1,145)(36.3,125)(36.5,150)(36.65,165)(36.77,180)(36.9,168)(37.06,154)(37.22,140)(37.39,131)(37.6,125)(37.89,111)(38.05,118)
(38.28,120)(38.5,112)(38.71,108)(38.88,100)(39.04,97)(39.25,110)(39.47,125)(39.62,100)(39.8,79)(40.0,100)(40.2,120)(40.35,112)(40.53,108)
(40.65,125)(40.79,145)(40.92,130)(41.09,114)(41.2,100)(41.35,85)(41.55,92)(41.78,91)(42.0,80)(42.18,85)(42.4,92)(42.67,97)(42.9,80)
(43.17,62)(43.28,75)(43.4,72)(43.5,85)(43.58,70)(43.66,79)(43.78,90)(43.9,85)(44.0,72)(44.08,82)(44.16,91)(44.28,78)(44.4,80)(44.52,70)
(44.65,68)(44.75,82)(44.82,75)(44.9,78)(45.0,90)(45.08,80)(45.15,85)(45.25,92)(45.35,82)(45.45,95)(45.55,88)(45.65,100)(45.74,105)(45.82,95)
(45.95,90)(46.05,82)(46.14,74)(46.22,80)(46.3,65)(46.38,70)(46.47,54)(46.58,68)(46.7,75)(46.8,82)(46.9,91)(47.0,78)(47.1,70)(47.2,62)
(47.29,51)(47.4,64)(47.48,55)(47.55,60)(47.68,72)(47.79,62)(47.9,68)(48.0,70)(48.1,58)(48.19,74)(48.3,65)(48.4,60)(48.5,66)(48.61,51)
(48.72,62)(48.85,58)(48.95,68)(49.02,55)(49.11,62)(49.2,52)(49.3,45)(49.38,50)(49.44,33)(49.52,48)(49.6,50)(49.7,58)(49.77,62)(49.85,55)
(49.9,68)(49.97,60)(50.03,74)(50.12,62)(50.2,55)(50.3,48)(50.43,39)(50.55,52)(50.62,45)(50.7,48)(50.8,58)(50.92,51)(51.02,45)(51.1,40)
(51.18,35)(51.25,28)(51.35,40)(51.42,48)(51.5,38)(51.6,45)(51.68,52)(51.75,45)(51.85,38)(51.92,48)(52.0,42)(52.1,50)(52.17,35)(52.24,39)
(52.35,48)(52.42,40)(52.5,46)(52.6,55)(52.68,42)(52.74,51)(52.85,45)(52.95,55)(53.05,48)(53.14,57)(53.22,45)(53.28,30)(53.34,15)(53.4,5)
(53.46,25)(53.52,30)(53.6,45)(53.66,51)(53.75,58)(53.82,48)(53.89,68)(53.96,58)(54.03,50)(54.1,55)(54.2,45)(54.3,52)(54.39,39)(54.5,52)
(54.6,48)(54.7,58)(54.8,45)(54.88,57)(54.96,42)(55.05,50)(55.12,35)(55.2,28)(55.28,15)(55.38,5)(55.45,18)(55.52,25)(55.6,38)(55.68,28)
(55.78,39)(55.85,48)(55.92,40)(56.0,50)(56.08,42)(56.15,55)(56.21,57)(56.3,45)(56.4,35)(56.48,28)(56.56,20)(56.63,16)(56.72,30)(56.8,25)
(56.88,35)(56.95,28)(57.03,39)(57.1,30)(57.2,25)(57.28,18)(57.36,11)(57.45,25)(57.55,22)(57.62,30)(57.7,25)(57.75,33)(57.82,22)(57.9,30)
(57.95,25)(58.05,20)(58.12,28)(58.18,16)(58.25,25)(58.32,18)(58.4,20)(58.5,12)(58.58,22)(58.68,11)(58.75,18)(58.85,8)(58.92,15)(59.01,5)
(59.1,20)(59.2,25)(59.28,35)(59.34,45)(59.38,30)(59.42,20)(59.46,10)(59.5,8)(59.55,18)(59.6,20)(59.67,33)
};

% panel labels
\node[font=\pnl,inner sep=0pt] at (axis cs:8.98,3088) {f)};
\node[font=\pnl,inner sep=0pt] at (axis cs:8.98,2572) {e)};
\node[font=\pnl,inner sep=0pt] at (axis cs:8.98,1995) {d)};
\node[font=\pnl,inner sep=0pt] at (axis cs:8.98,1429) {c)};
\node[font=\pnl,inner sep=0pt] at (axis cs:8.98,921) {b)};
\node[font=\pnl,inner sep=0pt] at (axis cs:8.98,476) {a)};

% f) peaks
\pk{26.77}{3543}{Q}
\pk{20.23}{3291}{H\pr}
\pk{22.08}{3283}{H}
\pk{21.12}{3215}{A}
\pk{25.51}{3100}{H}
\pk{28.15}{3134}{A}
\pk{29.31}{3075}{H\pr}
\pk{34.09}{3047}{H\pr}
\pk{40.96}{2926}{H}
% e) peaks
\pk{26.9}{2938}{Q}
\pk{22.05}{2849}{H}
\pk{21.25}{2696}{A}
\pk{25.68}{2566}{H}
\pk{29.24}{2553}{H\pr}
\pk{34.09}{2472}{H\pr}
\pk{41.12}{2354}{H}
% d) peaks
\pk{26.9}{2438}{Q}
\pk{12.24}{2241}{H}
\pk{16.0}{2323}{H}
\pk{23.76}{2314}{H\pr}
\pk{20.73}{2148}{P\pr}
\pk{17.0}{2014}{A}
\pk{18.91}{2017}{P\pr}
\pk{21.45}{2008}{A}
\pk{25.68}{2008}{A}
\pk{30.5}{2138}{A}
\pk{31.29}{2221}{H}
\pk{29.64}{2027}{P\pr}
\pk{32.41}{2027}{H\pr}
\pk{33.93}{1957}{H\pr}
\pk{35.74}{1880}{A}
\pk{41.12}{1858}{H}
% c) peaks
\pk{26.9}{1838}{Q}
\pk{15.78}{1473}{H}
\pk{17.0}{1405}{A}
\pk{20.33}{1380}{P\pr}
\pk{21.12}{1334}{A}
\pk{22.12}{1352}{H}
\pk{23.8}{1410}{H\pr}
\pk{25.68}{1372}{A}
\pk{29.24}{1426}{P\pr}
\pk{31.29}{1440}{H}
\pk{34.19}{1314}{A}
\pk{41.12}{1243}{H}
% b) peaks
\pk{26.9}{1243}{Q}
\pk{16.67}{884}{U}
\pk{21.39}{850}{A}
\pk{25.51}{912}{U}
\pk{27.92}{1019}{A}
\pk{30.5}{897}{A}
\pk{33.99}{768}{N}
\pk{39.37}{628}{N}
\pk{41.35}{616}{N}
% a) peaks
\pk{26.83}{802}{Q}
\pk{14.62}{484}{A}
\pk{15.78}{521}{N}
\pk{21.06}{430}{A}
\pk{22.21}{452}{N}
\pk{26.44}{550}{A}
\pk{27.92}{452}{A}
\pk{34.36}{289}{A}
\pk{35.74}{243}{N}
\pk{37.16}{214}{A}
\pk{40.53}{186}{N}
\pk{50.1}{111}{N}
\pk{53.99}{99}{N}

% page frame
\path (axis cs:7.392,-206) rectangle (axis cs:61.856,3608);
\end{axis}
\end{tikzpicture}
\end{document}
